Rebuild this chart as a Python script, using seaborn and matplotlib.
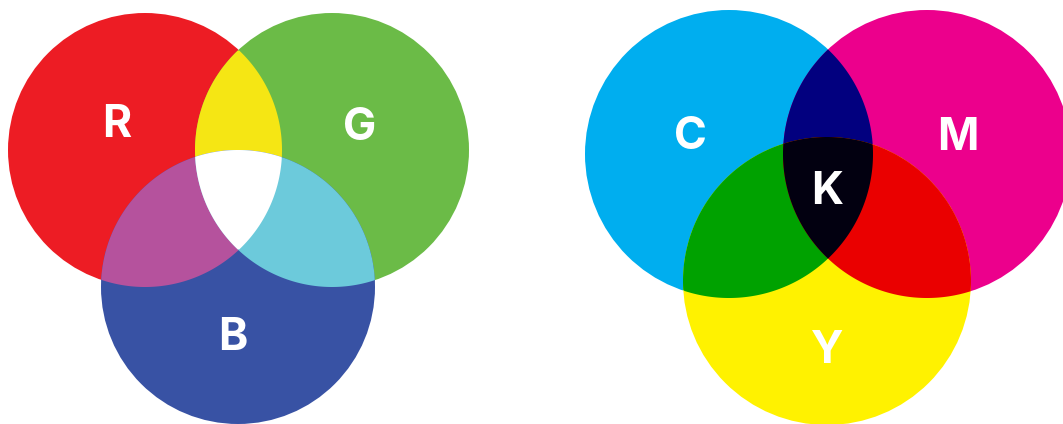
import numpy as np
import matplotlib
matplotlib.use("Agg")
import matplotlib.pyplot as plt
import seaborn as sns
from matplotlib.patches import Circle, Polygon

# Circle data in pixel space (x, y measured from top-left)
rgb_names = ["R", "G", "B"]
rgb_cx = [145, 332, 238]
rgb_cy = [150, 150, 287]
rgb_r = [137, 137, 137]
rgb_colors = ["#ED1C24", "#6BBB47", "#3852A4"]
rgb_pair_colors = {(0, 1): "#F5E614", (0, 2): "#B5529D", (1, 2): "#6CCADB"}
rgb_center_color = "#FFFFFF"

cmy_names = ["C", "M", "Y"]
cmy_cx = [729, 927, 827]
cmy_cy = [154, 154, 281]
cmy_r = [144, 144, 144]
cmy_colors = ["#00AEEF", "#EC008C", "#FFF200"]
cmy_pair_colors = {(0, 1): "#02007F", (0, 2): "#00A200", (1, 2): "#EA0000"}
cmy_center_color = "#020010"

# label positions (x, baseline y)
labels = ["R", "G", "B", "C", "M", "K", "Y"]
label_x = [117, 360, 233, 690, 958, 827, 827]
label_y = [137, 140, 350, 149, 150, 204, 363]


def intersection_polygon(cx, cy, r, idx, n=720):
    # points on each circle boundary that lie inside all the others; region is convex
    pts = []
    t = np.linspace(0, 2 * np.pi, n, endpoint=False)
    for i in idx:
        px = cx[i] + r[i] * np.cos(t)
        py = cy[i] + r[i] * np.sin(t)
        keep = np.ones_like(px, dtype=bool)
        for j in idx:
            if j != i:
                keep &= (px - cx[j]) ** 2 + (py - cy[j]) ** 2 <= r[j] ** 2 + 1e-6
        pts.append(np.column_stack([px[keep], py[keep]]))
    pts = np.vstack(pts)
    c = pts.mean(axis=0)
    order = np.argsort(np.arctan2(pts[:, 1] - c[1], pts[:, 0] - c[0]))
    return pts[order]


def draw_venn(ax, cx, cy, r, colors, pair_colors, center_color):
    for i in range(3):
        ax.add_patch(Circle((cx[i], cy[i]), r[i], color=colors[i], lw=0))
    for (a, b), col in pair_colors.items():
        ax.add_patch(Polygon(intersection_polygon(cx, cy, r, [a, b]), color=col, lw=0))
    ax.add_patch(Polygon(intersection_polygon(cx, cy, r, [0, 1, 2]), color=center_color, lw=0))


sns.set_theme(style="white")
plt.rcParams['font.family'] = ['Inter', 'DejaVu Sans']

fig = plt.figure(figsize=(10.63, 4.24), dpi=100)
ax = fig.add_axes([0, 0, 1, 1])
ax.set_xlim(0, 1063)
ax.set_ylim(424, 0)
ax.set_aspect("equal")
ax.axis("off")

draw_venn(ax, rgb_cx, rgb_cy, rgb_r, rgb_colors, rgb_pair_colors, rgb_center_color)
draw_venn(ax, cmy_cx, cmy_cy, cmy_r, cmy_colors, cmy_pair_colors, cmy_center_color)

for lab, x, y in zip(labels, label_x, label_y):
    ax.text(x, y, lab, color="white", fontsize=32, fontweight="bold",
            ha="center", va="baseline")

fig.savefig("out.png", dpi=100, facecolor="white")
